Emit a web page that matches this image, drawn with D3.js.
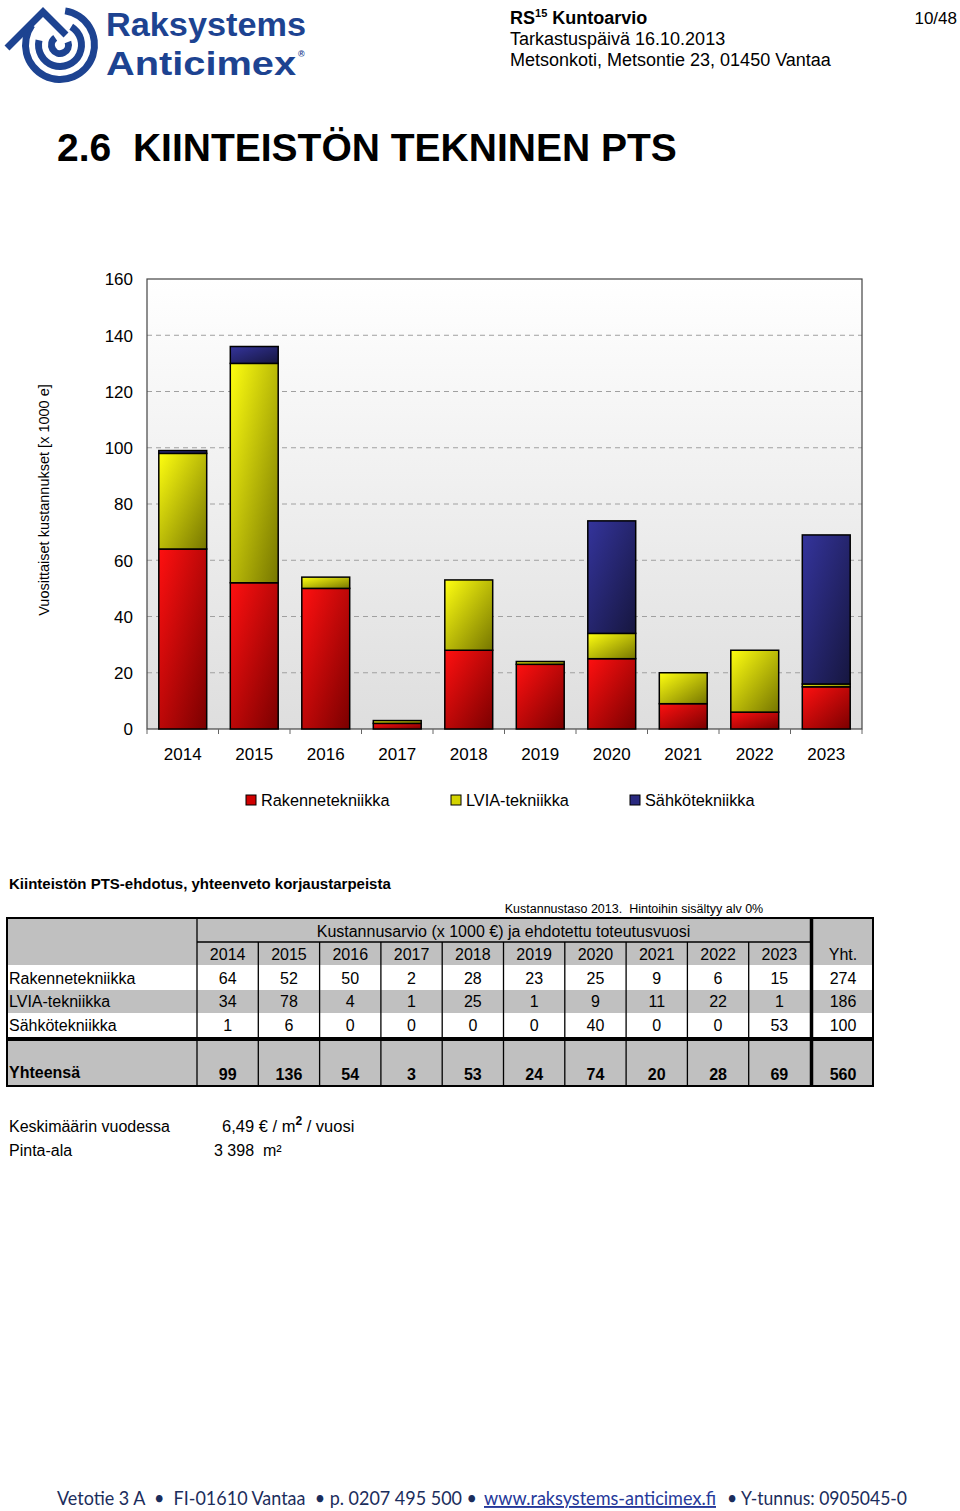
<!DOCTYPE html>
<html lang="fi">
<head>
  <meta charset="utf-8">
  <title>Kiinteistön tekninen PTS</title>
  <script src="https://d3js.org/d3.v7.min.js"></script>
  <style>
    body { margin: 0; background: #fff; }
    svg text { font-family: "Liberation Sans", Arial, sans-serif; fill: #000; }
    .axis path.domain { display: none; }
    .axis .tick line { display: none; }
    .axis text { font-size: 17px; }
    .tbl text { font-size: 16px; }
    .logo text { font-family: "Liberation Sans", Arial, sans-serif; font-weight: bold; fill: #1d4391; }
    .foot text { font-family: Lato, "Open Sans", sans-serif; fill: #1b2d5c; }
  </style>
</head>
<body>
<script>
  // Data
  const years = [2014, 2015, 2016, 2017, 2018, 2019, 2020, 2021, 2022, 2023];
  const seriesNames = ["Rakennetekniikka", "LVIA-tekniikka", "Sähkötekniikka"];
  const rakenne = [64, 52, 50, 2, 28, 23, 25, 9, 6, 15];
  const lvia = [34, 78, 4, 1, 25, 1, 9, 11, 22, 1];
  const sahko = [1, 6, 0, 0, 0, 0, 40, 0, 0, 53];
  const yTicks = [0, 20, 40, 60, 80, 100, 120, 140, 160];

  const width = 960, height = 1511;
  const plot = { left: 147, right: 862, top: 279, bottom: 729 };

  const svg = d3.select("body").append("svg")
    .attr("width", width).attr("height", height);
  svg.append("rect").attr("width", width).attr("height", height).attr("fill", "#fff");

  const defs = svg.append("defs");
  function grad(id, c1, c2, x2, y2) {
    const g = defs.append("linearGradient").attr("id", id)
      .attr("x1", 0).attr("y1", 0).attr("x2", x2).attr("y2", y2);
    g.append("stop").attr("offset", "0%").attr("stop-color", c1);
    g.append("stop").attr("offset", "100%").attr("stop-color", c2);
  }
  grad("gRed", "#ff1010", "#7a0000", 1, 1);
  grad("gYel", "#ffff10", "#767600", 1, 1);
  grad("gBlu", "#34349c", "#16163f", 1, 1);
  grad("gBg", "#ffffff", "#dedede", 0, 1);
  const fills = ["url(#gRed)", "url(#gYel)", "url(#gBlu)"];
  const legendFills = ["#d00000", "#d4d400", "#2a2a80"];

  // ---- logo
  const logo = svg.append("g").attr("class", "logo");
  const blue = "#1d4391";
  const lc = logo.append("g").attr("transform", "translate(60,45)");
  const arc = d3.arc();
  [[31, 38, 0.15, 2 * Math.PI - 0.95], [18, 25, 0.55, 2 * Math.PI - 1.35], [5, 12, 1.2, 2 * Math.PI - 0.6]]
    .forEach(a => lc.append("path").attr("fill", blue)
      .attr("d", arc({ innerRadius: a[0], outerRadius: a[1], startAngle: a[2], endAngle: a[3] })));
  logo.append("path").attr("d", "M7,48 L43,12 L66,35")
    .attr("fill", "none").attr("stroke", blue).attr("stroke-width", 7).attr("stroke-linejoin", "miter");
  logo.append("text").attr("x", 106).attr("y", 36).attr("font-size", 33)
    .attr("textLength", 200).attr("lengthAdjust", "spacingAndGlyphs").text("Raksystems");
  logo.append("text").attr("x", 106).attr("y", 75).attr("font-size", 33)
    .attr("textLength", 190).attr("lengthAdjust", "spacingAndGlyphs").text("Anticimex");
  logo.append("text").attr("x", 298).attr("y", 57).attr("font-size", 9).text("®");

  // ---- header right
  const h1 = svg.append("text").attr("x", 510).attr("y", 24).attr("font-size", 18).attr("font-weight", "bold");
  h1.append("tspan").text("RS");
  h1.append("tspan").attr("font-size", 11).attr("dy", -7).text("15");
  h1.append("tspan").attr("dy", 7).text(" Kuntoarvio");
  svg.append("text").attr("x", 510).attr("y", 45).attr("font-size", 18).text("Tarkastuspäivä 16.10.2013");
  svg.append("text").attr("x", 510).attr("y", 66).attr("font-size", 18).text("Metsonkoti, Metsontie 23, 01450 Vantaa");
  svg.append("text").attr("x", 957).attr("y", 24).attr("font-size", 17).attr("text-anchor", "end").text("10/48");

  svg.append("text").attr("x", 57).attr("y", 161).attr("font-size", 39).attr("font-weight", "bold")
    .attr("xml:space", "preserve").text("2.6  KIINTEISTÖN TEKNINEN PTS");

  // ---- chart
  const x = d3.scaleBand().domain(years).range([plot.left, plot.right])
    .paddingInner(0.33).paddingOuter(0.165);
  const y = d3.scaleLinear().domain([0, 160]).range([plot.bottom, plot.top]);

  svg.append("rect").attr("x", plot.left).attr("y", plot.top)
    .attr("width", plot.right - plot.left).attr("height", plot.bottom - plot.top)
    .attr("fill", "url(#gBg)");

  svg.append("g").selectAll("line").data(yTicks.slice(1, -1)).join("line")
    .attr("x1", plot.left).attr("x2", plot.right)
    .attr("y1", d => y(d)).attr("y2", d => y(d))
    .attr("stroke", "#a0a0a0").attr("stroke-dasharray", "5,4");

  svg.append("rect").attr("x", plot.left).attr("y", plot.top)
    .attr("width", plot.right - plot.left).attr("height", plot.bottom - plot.top)
    .attr("fill", "none").attr("stroke", "#444").attr("stroke-width", 1.2);

  // category boundary ticks
  const step = x.step();
  svg.append("g").selectAll("line").data(d3.range(years.length + 1)).join("line")
    .attr("x1", i => plot.left + i * step).attr("x2", i => plot.left + i * step)
    .attr("y1", plot.bottom).attr("y2", plot.bottom + 5)
    .attr("stroke", "#666");

  svg.append("g").attr("class", "axis")
    .attr("transform", `translate(${plot.left - 8},0)`)
    .call(d3.axisLeft(y).tickValues(yTicks).tickSize(0).tickPadding(6))
    .selectAll("text").attr("dy", "0.35em");

  svg.append("g").attr("class", "axis")
    .attr("transform", `translate(0,${plot.bottom + 19})`)
    .call(d3.axisBottom(x).tickSize(0).tickPadding(0))
    .selectAll("text").attr("dy", "0.71em");

  svg.append("text").attr("transform", "translate(49,500) rotate(-90)")
    .attr("text-anchor", "middle").attr("font-size", 14.5)
    .text("Vuosittaiset kustannukset [x 1000 e]");

  const rows = years.map((yr, i) => ({ year: yr, r: rakenne[i], l: lvia[i], s: sahko[i] }));
  const stacked = d3.stack().keys(["r", "l", "s"])(rows);

  svg.append("g").selectAll("g").data(stacked).join("g")
    .attr("fill", (d, i) => fills[i])
    .selectAll("rect").data(d => d.filter(p => p[1] - p[0] > 0)).join("rect")
    .attr("x", d => x(d.data.year))
    .attr("width", x.bandwidth())
    .attr("y", d => y(d[1]))
    .attr("height", d => y(d[0]) - y(d[1]))
    .attr("stroke", "#000").attr("stroke-width", 1.5);

  // legend
  const legX = [246, 451, 630];
  const leg = svg.append("g").selectAll("g").data(seriesNames).join("g")
    .attr("transform", (d, i) => `translate(${legX[i]},795)`);
  leg.append("rect").attr("width", 10).attr("height", 10)
    .attr("fill", (d, i) => legendFills[i]).attr("stroke", "#000");
  leg.append("text").attr("x", 15).attr("y", 11).attr("font-size", 16.3).text(d => d);

  // ---- table
  svg.append("text").attr("x", 9).attr("y", 889).attr("font-size", 15).attr("font-weight", "bold")
    .text("Kiinteistön PTS-ehdotus, yhteenveto korjaustarpeista");
  svg.append("text").attr("x", 634).attr("y", 913).attr("font-size", 12.5).attr("text-anchor", "middle")
    .attr("xml:space", "preserve").text("Kustannustaso 2013.  Hintoihin sisältyy alv 0%");

  const tbl = svg.append("g").attr("class", "tbl");
  const T = { left: 7, label: 197, yearsEnd: 810, totL: 813, right: 873 };
  const rowY = [918, 942, 965, 990, 1013, 1037, 1041, 1086];
  const tx = d3.scaleBand().domain(years).range([T.label, T.yearsEnd]);
  const gray = "#c0c0c0";

  tbl.append("rect").attr("x", T.left).attr("y", rowY[0]).attr("width", T.right - T.left)
    .attr("height", rowY[7] - rowY[0]).attr("fill", gray);
  [[rowY[2], rowY[3]], [rowY[4], rowY[5]]].forEach(r =>
    tbl.append("rect").attr("x", T.left).attr("y", r[0]).attr("width", T.right - T.left)
      .attr("height", r[1] - r[0]).attr("fill", "#fff"));

  const line = (x1, y1, x2, y2, w) => tbl.append("line")
    .attr("x1", x1).attr("y1", y1).attr("x2", x2).attr("y2", y2)
    .attr("stroke", "#000").attr("stroke-width", w || 1.3);
  line(T.label, rowY[1], T.yearsEnd, rowY[1]);
  line(T.label, rowY[0], T.label, rowY[7]);
  years.slice(1).forEach(yr => line(tx(yr), rowY[1], tx(yr), rowY[7]));
  line(T.left, rowY[5] + 2, T.right, rowY[5] + 2, 4);
  line(T.yearsEnd + 1.5, rowY[0], T.yearsEnd + 1.5, rowY[7], 3.5);
  tbl.append("rect").attr("x", T.left).attr("y", rowY[0]).attr("width", T.right - T.left)
    .attr("height", rowY[7] - rowY[0]).attr("fill", "none").attr("stroke", "#000").attr("stroke-width", 2);

  const midX = yr => tx(yr) + tx.bandwidth() / 2;
  const totX = (T.totL + T.right) / 2;
  tbl.append("text").attr("x", (T.label + T.yearsEnd) / 2).attr("y", 937)
    .attr("text-anchor", "middle").text("Kustannusarvio (x 1000 €) ja ehdotettu toteutusvuosi");
  tbl.append("g").selectAll("text").data(years).join("text")
    .attr("x", midX).attr("y", 960).attr("text-anchor", "middle").text(d => d);
  tbl.append("text").attr("x", totX).attr("y", 960).attr("text-anchor", "middle").text("Yht.");

  const dataRows = [rakenne, lvia, sahko];
  const rowBase = [984, 1007, 1031];
  dataRows.forEach((vals, r) => {
    tbl.append("text").attr("x", 9).attr("y", rowBase[r]).text(seriesNames[r]);
    tbl.append("g").selectAll("text").data(vals).join("text")
      .attr("x", (d, i) => midX(years[i])).attr("y", rowBase[r])
      .attr("text-anchor", "middle").text(d => d);
    tbl.append("text").attr("x", totX).attr("y", rowBase[r])
      .attr("text-anchor", "middle").text(d3.sum(vals));
  });
  const colTotals = years.map((yr, i) => rakenne[i] + lvia[i] + sahko[i]);
  tbl.append("text").attr("x", 9).attr("y", 1078).attr("font-weight", "bold").text("Yhteensä");
  tbl.append("g").selectAll("text").data(colTotals).join("text")
    .attr("x", (d, i) => midX(years[i])).attr("y", 1080)
    .attr("text-anchor", "middle").attr("font-weight", "bold").text(d => d);
  tbl.append("text").attr("x", totX).attr("y", 1080).attr("text-anchor", "middle")
    .attr("font-weight", "bold").text(d3.sum(colTotals));

  // ---- summary
  svg.append("text").attr("x", 9).attr("y", 1132).attr("font-size", 16).text("Keskimäärin vuodessa");
  const av = svg.append("text").attr("x", 222).attr("y", 1132).attr("font-size", 16.5);
  av.append("tspan").text("6,49 € / m");
  av.append("tspan").attr("font-size", 12).attr("font-weight", "bold").attr("dy", -7).text("2");
  av.append("tspan").attr("dy", 7).text(" / vuosi");
  svg.append("text").attr("x", 9).attr("y", 1156).attr("font-size", 16).text("Pinta-ala");
  svg.append("text").attr("x", 214).attr("y", 1156).attr("font-size", 16)
    .attr("xml:space", "preserve").text("3 398  m²");

  // ---- footer
  const foot = svg.append("g").attr("class", "foot");
  const fparts = [
    { x: 57, len: 420, t: "Vetotie 3 A  •  FI-01610 Vantaa  • p. 0207 495 500 •", link: false },
    { x: 484, len: 232, t: "www.raksystems-anticimex.fi", link: true },
    { x: 727, len: 180, t: "• Y-tunnus: 0905045-0", link: false }
  ];
  foot.selectAll("text").data(fparts).join("text")
    .attr("x", d => d.x).attr("y", 1505).attr("font-size", 19)
    .attr("xml:space", "preserve")
    .attr("textLength", d => d.len).attr("lengthAdjust", "spacingAndGlyphs")
    .attr("text-decoration", d => d.link ? "underline" : null)
    .style("fill", d => d.link ? "#26399a" : null)
    .text(d => d.t);
</script>
</body>
</html>
